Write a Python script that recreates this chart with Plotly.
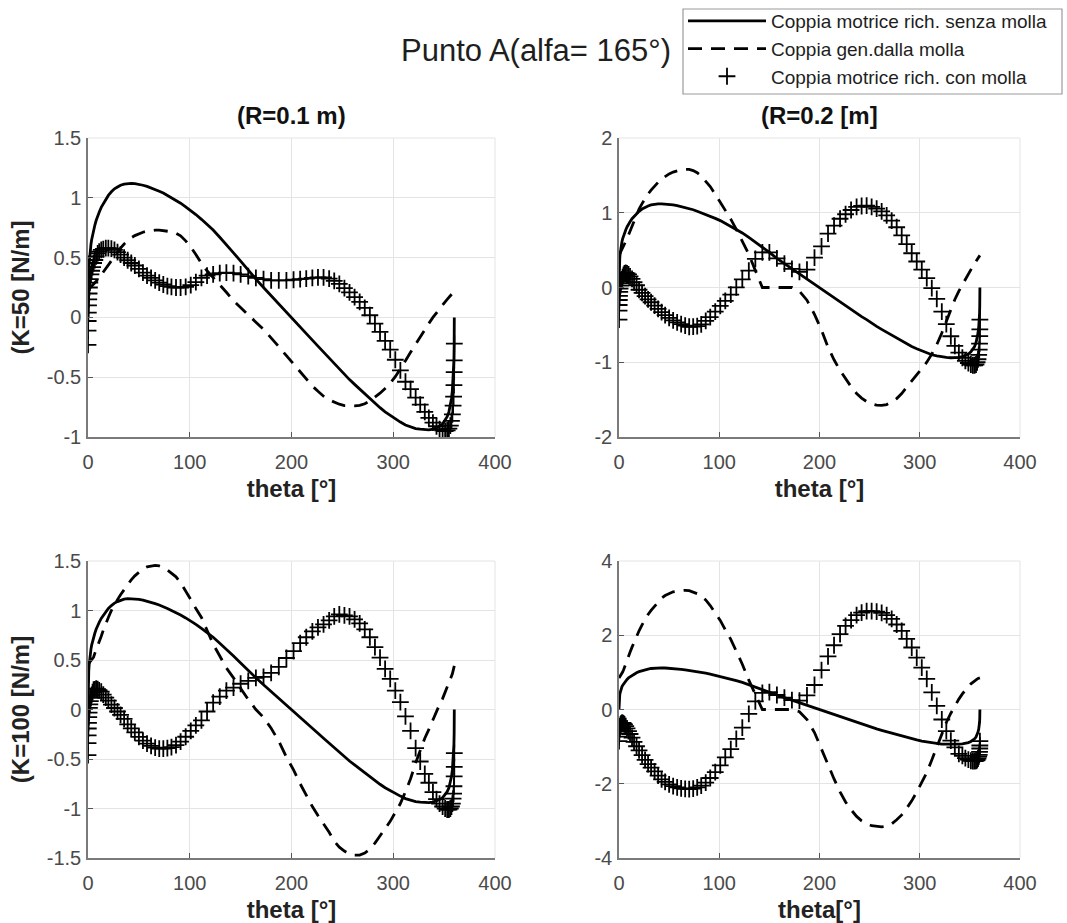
import plotly.graph_objects as go

# Crank angle samples [deg] shared by every panel
theta = [0, 0.05, 0.15, 0.3, 0.5, 0.75, 1.05, 1.4, 1.8, 2.3,
         2.9, 3.6, 4.5, 5.5, 6.7, 8, 9.5, 11, 13, 15,
         17.5, 20, 23, 26, 29, 32, 35.5, 39, 42.5, 46,
         50, 54, 58, 62, 66, 70, 74, 78, 82, 86.5,
         91, 96, 101, 106, 111.5, 117, 123, 129.5, 136, 143,
         150, 157.5, 165, 172.5, 180, 187.5, 195, 202, 208.5, 214.5,
         220.5, 226, 231.5, 237, 242, 247, 252, 257, 262, 267,
         272, 277, 282, 287, 292, 297, 302, 307, 312, 317,
         322, 326.5, 331, 335, 339, 342.5, 345.5, 348.5, 351, 353,
         354.7, 356.1, 357.2, 358.1, 358.8, 359.3, 359.65, 359.85, 359.95, 360]

# Required driving torque without spring (same in all panels)
torque_no_spring = [0, 0.12, 0.2, 0.27, 0.33, 0.39, 0.44, 0.49, 0.53, 0.57,
                    0.61, 0.65, 0.69, 0.73, 0.77, 0.81, 0.85, 0.88, 0.92, 0.95,
                    0.99, 1.02, 1.05, 1.075, 1.09, 1.105, 1.115, 1.12, 1.12, 1.118,
                    1.113, 1.105, 1.095, 1.083, 1.07, 1.055, 1.04, 1.02, 1.0, 0.98,
                    0.955, 0.925, 0.895, 0.86, 0.82, 0.78, 0.73, 0.67, 0.61, 0.54,
                    0.47, 0.39, 0.32, 0.25, 0.18, 0.11, 0.04, -0.02, -0.08, -0.14,
                    -0.19, -0.24, -0.29, -0.34, -0.39, -0.43, -0.48, -0.52, -0.56, -0.6,
                    -0.64, -0.68, -0.72, -0.755, -0.79, -0.82, -0.85, -0.875, -0.9, -0.915,
                    -0.93, -0.935, -0.94, -0.94, -0.935, -0.925, -0.91, -0.89, -0.86, -0.83,
                    -0.79, -0.74, -0.68, -0.61, -0.53, -0.45, -0.35, -0.24, -0.14, 0]

# Torque generated by the spring
spring_k50_r01 = [0.23, 0.23, 0.23, 0.23, 0.234, 0.236, 0.238, 0.241, 0.244, 0.248,
                  0.253, 0.259, 0.266, 0.275, 0.287, 0.30, 0.315, 0.332, 0.356, 0.38,
                  0.41, 0.44, 0.476, 0.512, 0.548, 0.58, 0.614, 0.642, 0.665, 0.684,
                  0.70, 0.712, 0.721, 0.727, 0.73, 0.73, 0.726, 0.722, 0.716, 0.704,
                  0.682, 0.64, 0.588, 0.526, 0.452, 0.39, 0.336, 0.275, 0.21, 0.14,
                  0.08, 0.02, -0.04, -0.10, -0.17, -0.245, -0.32, -0.39, -0.455, -0.515,
                  -0.574, -0.618, -0.659, -0.69, -0.711, -0.726, -0.737, -0.74, -0.74, -0.736,
                  -0.722, -0.698, -0.668, -0.634, -0.594, -0.55, -0.496, -0.432, -0.362, -0.292,
                  -0.222, -0.16, -0.098, -0.05, 0.0, 0.04, 0.075, 0.105, 0.13, 0.15,
                  0.167, 0.181, 0.192, 0.201, 0.208, 0.213, 0.216, 0.218, 0.219, 0.22]
spring_k50_r02 = [0.43, 0.431, 0.434, 0.437, 0.442, 0.448, 0.455, 0.464, 0.473, 0.485,
                  0.50, 0.516, 0.538, 0.567, 0.608, 0.652, 0.703, 0.756, 0.828, 0.90,
                  0.975, 1.05, 1.122, 1.19, 1.25, 1.302, 1.357, 1.406, 1.45, 1.488,
                  1.52, 1.544, 1.562, 1.574, 1.58, 1.58, 1.564, 1.536, 1.492, 1.426,
                  1.35, 1.248, 1.14, 1.038, 0.914, 0.778, 0.622, 0.444, 0.228, 0.0,
                  0, 0, 0, 0, -0.05, -0.17, -0.36, -0.57, -0.8, -0.967,
                  -1.11, -1.22, -1.327, -1.418, -1.48, -1.526, -1.558, -1.574, -1.578, -1.566,
                  -1.534, -1.486, -1.418, -1.334, -1.248, -1.168, -1.088, -1.0, -0.892, -0.764,
                  -0.608, -0.446, -0.288, -0.16, -0.048, 0.04, 0.112, 0.184, 0.242, 0.286,
                  0.323, 0.352, 0.374, 0.392, 0.406, 0.416, 0.423, 0.427, 0.429, 0.43]
spring_k100_r01 = [0.46, 0.46, 0.461, 0.462, 0.465, 0.467, 0.471, 0.474, 0.479, 0.485,
                   0.493, 0.502, 0.515, 0.53, 0.567, 0.6, 0.645, 0.687, 0.74, 0.8,
                   0.87, 0.93, 1.0, 1.06, 1.11, 1.16, 1.21, 1.27, 1.31, 1.35,
                   1.39, 1.42, 1.44, 1.45, 1.455, 1.45, 1.435, 1.41, 1.38, 1.34,
                   1.28, 1.2, 1.11, 1.02, 0.93, 0.8, 0.66, 0.54, 0.42, 0.32,
                   0.21, 0.1, 0.0, -0.08, -0.19, -0.32, -0.48, -0.61, -0.75, -0.87,
                   -0.98, -1.07, -1.15, -1.24, -1.33, -1.39, -1.43, -1.46, -1.47, -1.47,
                   -1.45, -1.41, -1.35, -1.28, -1.2, -1.13, -1.04, -0.95, -0.83, -0.7,
                   -0.54, -0.41, -0.29, -0.2, -0.1, -0.02, 0.05, 0.11, 0.17, 0.22,
                   0.26, 0.3, 0.33, 0.36, 0.39, 0.41, 0.425, 0.435, 0.44, 0.44]
spring_k100_r02 = [0.85, 0.852, 0.856, 0.862, 0.87, 0.88, 0.892, 0.906, 0.922, 0.945,
                   0.97, 1.01, 1.065, 1.13, 1.22, 1.32, 1.43, 1.54, 1.68, 1.82,
                   1.98, 2.12, 2.28, 2.43, 2.56, 2.67, 2.78, 2.9, 3.0, 3.07,
                   3.13, 3.17, 3.19, 3.205, 3.21, 3.2, 3.17, 3.12, 3.05, 2.95,
                   2.8, 2.61, 2.4, 2.15, 1.89, 1.57, 1.22, 0.79, 0.39, 0.0,
                   0, 0, 0, 0, -0.06, -0.27, -0.62, -1.08, -1.51, -1.87,
                   -2.22, -2.49, -2.7, -2.88, -3.0, -3.08, -3.13, -3.155, -3.16, -3.14,
                   -3.08, -2.97, -2.84, -2.66, -2.46, -2.22, -1.98, -1.7, -1.36, -1.01,
                   -0.66, -0.35, -0.1, 0.1, 0.28, 0.42, 0.53, 0.62, 0.69, 0.74,
                   0.77, 0.8, 0.82, 0.835, 0.843, 0.847, 0.85, 0.85, 0.85, 0.85]

# Required driving torque with spring
torque_k50_r01 = [-0.23, -0.11, -0.03, 0.04, 0.10, 0.15, 0.20, 0.25, 0.29, 0.32,
                  0.36, 0.39, 0.42, 0.455, 0.48, 0.51, 0.535, 0.55, 0.565, 0.57,
                  0.58, 0.58, 0.575, 0.565, 0.545, 0.525, 0.50, 0.478, 0.455, 0.434,
                  0.405, 0.375, 0.35, 0.33, 0.31, 0.29, 0.275, 0.262, 0.255, 0.25,
                  0.25, 0.255, 0.27, 0.295, 0.33, 0.35, 0.36, 0.37, 0.375, 0.37,
                  0.36, 0.345, 0.33, 0.32, 0.31, 0.31, 0.31, 0.315, 0.32, 0.325,
                  0.33, 0.335, 0.335, 0.325, 0.305, 0.28, 0.245, 0.21, 0.17, 0.13,
                  0.08, 0.018, -0.052, -0.121, -0.196, -0.27, -0.354, -0.443, -0.538, -0.6,
                  -0.67, -0.73, -0.79, -0.84, -0.88, -0.91, -0.935, -0.945, -0.95, -0.945,
                  -0.93, -0.905, -0.865, -0.81, -0.738, -0.663, -0.566, -0.458, -0.359, -0.22]
torque_k50_r02 = [-0.43, -0.31, -0.234, -0.167, -0.112, -0.058, -0.015, 0.026, 0.057, 0.085,
                  0.11, 0.14, 0.17, 0.19, 0.195, 0.19, 0.175, 0.15, 0.115, 0.07,
                  0.03, -0.03, -0.072, -0.115, -0.16, -0.197, -0.242, -0.286, -0.33, -0.37,
                  -0.407, -0.439, -0.467, -0.491, -0.51, -0.525, -0.524, -0.516, -0.492, -0.446,
                  -0.395, -0.323, -0.245, -0.178, -0.094, 0.002, 0.108, 0.226, 0.382, 0.47,
                  0.47, 0.39, 0.32, 0.25, 0.21, 0.24, 0.40, 0.55, 0.72, 0.827,
                  0.92, 0.98, 1.037, 1.078, 1.09, 1.096, 1.078, 1.054, 1.018, 0.966,
                  0.894, 0.806, 0.698, 0.579, 0.458, 0.348, 0.238, 0.125, -0.008, -0.151,
                  -0.322, -0.489, -0.652, -0.78, -0.87, -0.94, -0.98, -1.01, -1.03, -1.04,
                  -1.04, -1.03, -1.0, -0.96, -0.9, -0.83, -0.75, -0.65, -0.56, -0.43]
torque_k100_r01 = [-0.46, -0.34, -0.261, -0.192, -0.135, -0.077, -0.031, 0.016, 0.051, 0.085,
                   0.117, 0.148, 0.175, 0.2, 0.203, 0.21, 0.205, 0.193, 0.18, 0.15,
                   0.12, 0.09, 0.05, 0.015, -0.02, -0.055, -0.095, -0.15, -0.19, -0.232,
                   -0.277, -0.315, -0.345, -0.367, -0.385, -0.395, -0.395, -0.39, -0.38, -0.36,
                   -0.325, -0.275, -0.215, -0.16, -0.11, -0.02, 0.07, 0.13, 0.19, 0.22,
                   0.26, 0.29, 0.32, 0.33, 0.37, 0.43, 0.52, 0.59, 0.67, 0.73,
                   0.79, 0.83, 0.86, 0.90, 0.94, 0.96, 0.95, 0.94, 0.91, 0.87,
                   0.81, 0.73, 0.63, 0.525, 0.41, 0.31, 0.19, 0.075, -0.07, -0.215,
                   -0.39, -0.525, -0.65, -0.74, -0.835, -0.905, -0.95, -0.98, -1.0, -1.01,
                   -1.01, -1.0, -0.98, -0.95, -0.9, -0.85, -0.775, -0.675, -0.58, -0.44]
torque_k100_r02 = [-0.85, -0.732, -0.656, -0.592, -0.54, -0.49, -0.452, -0.416, -0.392, -0.375,
                   -0.36, -0.36, -0.375, -0.40, -0.45, -0.51, -0.58, -0.66, -0.76, -0.87,
                   -0.99, -1.10, -1.23, -1.355, -1.47, -1.565, -1.665, -1.78, -1.88, -1.952,
                   -2.017, -2.065, -2.095, -2.122, -2.14, -2.145, -2.13, -2.10, -2.05, -1.97,
                   -1.845, -1.685, -1.505, -1.29, -1.07, -0.79, -0.49, -0.12, 0.22, 0.45,
                   0.47, 0.39, 0.32, 0.25, 0.24, 0.38, 0.66, 1.06, 1.43, 1.73,
                   2.03, 2.25, 2.41, 2.54, 2.61, 2.65, 2.65, 2.635, 2.6, 2.54,
                   2.44, 2.29, 2.12, 1.905, 1.67, 1.40, 1.13, 0.825, 0.46, 0.095,
                   -0.27, -0.585, -0.84, -1.02, -1.195, -1.25, -1.31, -1.35, -1.38, -1.39,
                   -1.39, -1.38, -1.36, -1.32, -1.27, -1.22, -1.14, -1.05, -0.97, -0.85]

# Tick labels
x_tick_vals = [0, 100, 200, 300, 400]
x_tick_text = ["0", "100", "200", "300", "400"]
y_ticks_k50_r01 = [-1, -0.5, 0, 0.5, 1, 1.5]
y_text_k50_r01 = ["-1", "-0.5", "0", "0.5", "1", "1.5"]
y_ticks_k50_r02 = [-2, -1, 0, 1, 2]
y_text_k50_r02 = ["-2", "-1", "0", "1", "2"]
y_ticks_k100_r01 = [-1.5, -1, -0.5, 0, 0.5, 1, 1.5]
y_text_k100_r01 = ["-1.5", "-1", "-0.5", "0", "0.5", "1", "1.5"]
y_ticks_k100_r02 = [-4, -2, 0, 2, 4]
y_text_k100_r02 = ["-4", "-2", "0", "2", "4"]

legend_names = ["Coppia motrice rich. senza molla",
                "Coppia gen.dalla molla",
                "Coppia motrice rich. con molla"]

W, H = 1067, 923
FONT = "Liberation Sans, Arial, Helvetica, sans-serif"


def px_x(a, b):
    return [a / W, b / W]


def px_y(top, bottom):
    return [1 - bottom / H, 1 - top / H]


panels = [
    dict(n="", spring=spring_k50_r01, total=torque_k50_r01,
         yrange=[-1, 1.5], yt=y_ticks_k50_r01, ytt=y_text_k50_r01,
         xd=px_x(88, 495), yd=px_y(138, 437),
         xtitle="theta [°]", ytitle="(K=50 [N/m]", title="(R=0.1 m)"),
    dict(n="2", spring=spring_k50_r02, total=torque_k50_r02,
         yrange=[-2, 2], yt=y_ticks_k50_r02, ytt=y_text_k50_r02,
         xd=px_x(619, 1020), yd=px_y(138, 437),
         xtitle="theta [°]", ytitle="", title="(R=0.2 [m]"),
    dict(n="3", spring=spring_k100_r01, total=torque_k100_r01,
         yrange=[-1.5, 1.5], yt=y_ticks_k100_r01, ytt=y_text_k100_r01,
         xd=px_x(88, 495), yd=px_y(561, 858),
         xtitle="theta [°]", ytitle="(K=100 [N/m]", title=""),
    dict(n="4", spring=spring_k100_r02, total=torque_k100_r02,
         yrange=[-4, 4], yt=y_ticks_k100_r02, ytt=y_text_k100_r02,
         xd=px_x(619, 1020), yd=px_y(561, 858),
         xtitle="theta[°]", ytitle="", title=""),
]

fig = go.Figure()
annotations = []
shapes = []

for i, p in enumerate(panels):
    xa, ya = "x" + p["n"], "y" + p["n"]
    first = i == 0
    fig.add_trace(go.Scatter(
        x=theta, y=torque_no_spring, mode="lines", xaxis=xa, yaxis=ya,
        line=dict(color="black", width=2.8), name=legend_names[0],
        showlegend=first, legendgroup="a"))
    fig.add_trace(go.Scatter(
        x=theta, y=p["spring"], mode="lines", xaxis=xa, yaxis=ya,
        line=dict(color="black", width=2.8, dash="14px,9px"), name=legend_names[1],
        showlegend=first, legendgroup="b"))
    fig.add_trace(go.Scatter(
        x=theta, y=p["total"], mode="markers", xaxis=xa, yaxis=ya,
        marker=dict(symbol="cross-thin", size=12, color="black",
                    line=dict(color="black", width=1.8)),
        name=legend_names[2], showlegend=first, legendgroup="c"))

    axis_common = dict(
        showline=True, linecolor="#7a7a7a", linewidth=1.5,
        showgrid=True, gridcolor="#e4e4e4", gridwidth=1, zeroline=False,
        ticks="inside", ticklen=5, tickwidth=1, tickcolor="#555555",
        tickfont=dict(family=FONT, size=20, color="#4a4a4a"),
        automargin=False,
    )
    fig.layout["xaxis" + p["n"]] = dict(
        axis_common, domain=p["xd"], anchor=ya, range=[0, 400],
        tickmode="array", tickvals=x_tick_vals, ticktext=x_tick_text,
        ticklabelstandoff=6,
        title=dict(text=p["xtitle"], standoff=8,
                   font=dict(family=FONT, size=24, color="#222222", weight="bold")))
    fig.layout["yaxis" + p["n"]] = dict(
        axis_common, domain=p["yd"], anchor=xa, range=p["yrange"],
        tickmode="array", tickvals=p["yt"], ticktext=p["ytt"],
        ticklabelstandoff=1,
        title=dict(text=p["ytitle"], standoff=10,
                   font=dict(family=FONT, size=24, color="#222222", weight="bold")))

    # light box edges on top and right of each plot area
    shapes.append(dict(type="line", xref=xa + " domain", yref=ya + " domain",
                       x0=0, x1=1, y0=1, y1=1, line=dict(color="#e4e4e4", width=1)))
    shapes.append(dict(type="line", xref=xa + " domain", yref=ya + " domain",
                       x0=1, x1=1, y0=0, y1=1, line=dict(color="#e4e4e4", width=1)))

    if p["title"]:
        annotations.append(dict(
            text=p["title"], xref="paper", yref="paper",
            x=(p["xd"][0] + p["xd"][1]) / 2, y=1 - 115 / H,
            xanchor="center", yanchor="middle", showarrow=False,
            font=dict(family=FONT, size=24, color="#111111", weight="bold")))

# legend frame
shapes.append(dict(type="rect", xref="paper", yref="paper",
                   x0=683 / W, x1=1062 / W, y0=1 - 94 / H, y1=1 - 9 / H,
                   line=dict(color="#9a9a9a", width=1.2), fillcolor="white",
                   layer="below"))

fig.update_layout(
    width=W, height=H,
    margin=dict(l=0, r=0, t=0, b=0, autoexpand=False),
    paper_bgcolor="white", plot_bgcolor="white",
    font=dict(family=FONT),
    title=dict(text="Punto A(alfa= 165°)", x=536 / W, y=1 - 50 / H,
               xanchor="center", yanchor="middle", xref="paper", yref="paper",
               font=dict(family=FONT, size=31, color="#1e1e1e")),
    legend=dict(x=683 / W, y=1 - 2 / H, xanchor="left", yanchor="top",
                bgcolor="rgba(0,0,0,0)", borderwidth=0,
                font=dict(family=FONT, size=19, color="#1e1e1e"),
                itemwidth=78, tracegroupgap=0, traceorder="normal"),
    annotations=annotations,
    shapes=shapes,
)

fig.write_html("out.html")
